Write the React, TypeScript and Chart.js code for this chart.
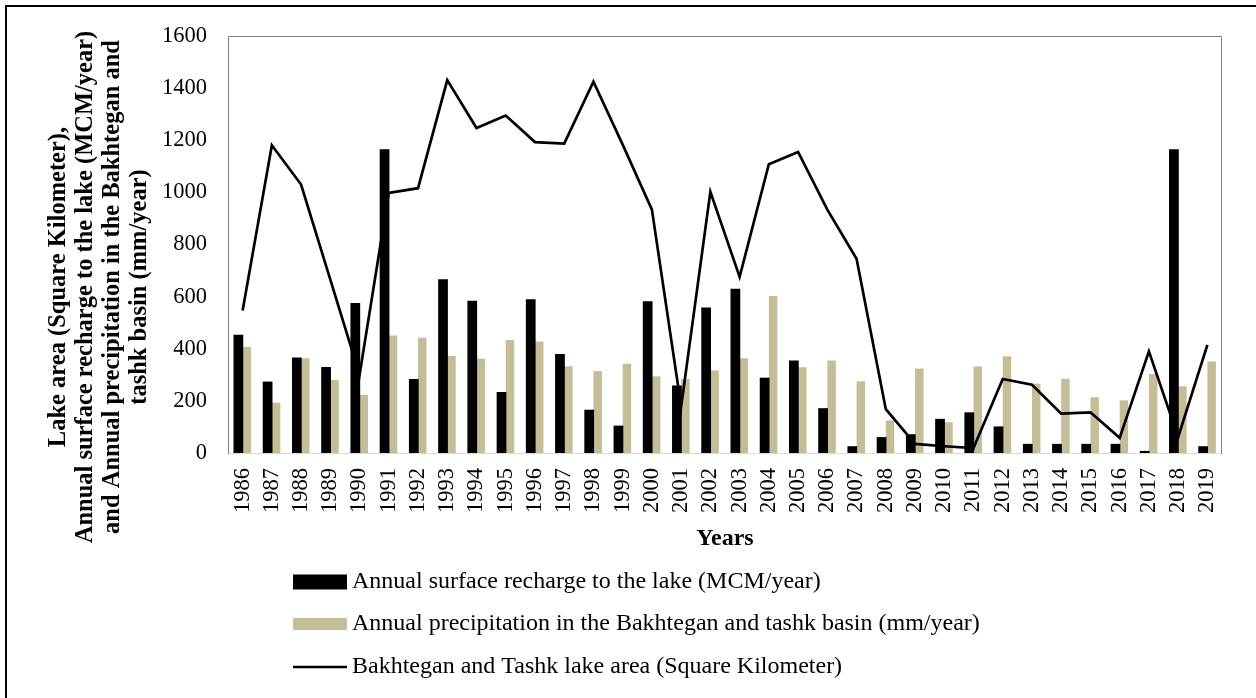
import React, { useEffect, useRef } from "react";
import { Chart, registerables } from "chart.js";

Chart.register(...registerables);

// ---------- data ----------
const years = [
  "1986", "1987", "1988", "1989", "1990", "1991", "1992", "1993", "1994", "1995",
  "1996", "1997", "1998", "1999", "2000", "2001", "2002", "2003", "2004", "2005",
  "2006", "2007", "2008", "2009", "2010", "2011", "2012", "2013", "2014", "2015",
  "2016", "2017", "2018", "2019",
];

const recharge = [
  454, 274, 366, 330, 576, 1165, 284, 667, 584, 234,
  590, 380, 166, 105, 582, 259, 558, 630, 289, 355,
  172, 26, 61, 72, 131, 156, 102, 35, 35, 35,
  35, 8, 1165, 26,
];

const precipitation = [
  407, 193, 364, 280, 223, 451, 442, 372, 362, 434,
  428, 333, 314, 342, 294, 284, 317, 364, 602, 329,
  355, 275, 125, 324, 118, 332, 371, 266, 285, 214,
  202, 303, 256, 351,
];

const lakeArea = [
  547, 1181, 1030, 665, 300, 998, 1016, 1431, 1247, 1295,
  1193, 1187, 1425, 1183, 934, 179, 1002, 676, 1108, 1155,
  934, 745, 168, 35, 26, 19, 284, 262, 151, 156,
  58, 390, 61, 415,
];

const seriesLabels = [
  "Annual surface recharge to the lake (MCM/year)",
  "Annual precipitation in the Bakhtegan and tashk basin (mm/year)",
  "Bakhtegan and Tashk lake area (Square Kilometer)",
];

const yTitleLines = [
  "Lake area (Square Kilometer),",
  "Annual surface recharge to the lake (MCM/year)",
  "and Annual precipitation in the Bakhtegan and",
  "tashk basin (mm/year)",
];

const xTitle = "Years";
const yMin = 0;
const yMax = 1600;
const yStep = 200;

// ---------- styles ----------
const SERIF = '"Liberation Serif", "Times New Roman", serif';
const BLACK = "#000000";
const TAN = "#c4bd97";

const decorPlugin = {
  id: "decor",
  beforeDraw(chart: any) {
    const ctx = chart.ctx;
    ctx.save();
    ctx.fillStyle = "#ffffff";
    ctx.fillRect(0, 0, chart.width, chart.height);
    ctx.strokeStyle = "#000000";
    ctx.lineWidth = 2;
    ctx.beginPath();
    ctx.moveTo(6, chart.height + 20);
    ctx.lineTo(6, 6);
    ctx.lineTo(chart.width + 20, 6);
    ctx.stroke();
    ctx.restore();
  },
  beforeDatasetsDraw(chart: any) {
    const { ctx, chartArea: a } = chart;
    ctx.save();
    ctx.lineWidth = 1;
    ctx.strokeStyle = "#d9d9d9";
    ctx.beginPath();
    ctx.moveTo(a.left, a.bottom + 0.5);
    ctx.lineTo(a.right, a.bottom + 0.5);
    ctx.stroke();
    ctx.strokeStyle = "#808080";
    ctx.beginPath();
    ctx.moveTo(a.left + 0.5, a.bottom + 1);
    ctx.lineTo(a.left + 0.5, a.top + 0.5);
    ctx.lineTo(a.right - 0.5, a.top + 0.5);
    ctx.lineTo(a.right - 0.5, a.bottom + 1);
    ctx.stroke();
    ctx.restore();
  },
  afterDraw(chart: any) {
    const { ctx, chartArea: a } = chart;
    ctx.save();
    // y-axis title (rotated, multi-line, bold)
    ctx.fillStyle = "#000000";
    ctx.font = `bold 24.5px ${SERIF}`;
    ctx.textAlign = "center";
    ctx.textBaseline = "middle";
    const titleCenterY = 287;
    yTitleLines.forEach((line, i) => {
      ctx.save();
      ctx.translate(59 + i * 27, titleCenterY);
      ctx.rotate(-Math.PI / 2);
      ctx.fillText(line, 0, 0);
      ctx.restore();
    });
    // x-axis title
    ctx.font = `bold 24px ${SERIF}`;
    ctx.fillText(xTitle, (a.left + a.right) / 2, 539);

    // legend
    const legendX = 293;
    const swatchW = 54;
    const rows = [582, 624, 667];
    ctx.font = `24px ${SERIF}`;
    ctx.textAlign = "left";
    chart.data.datasets.forEach((ds: any, i: number) => {
      const cy = rows[i];
      if (ds.type === "line") {
        ctx.strokeStyle = ds.borderColor;
        ctx.lineWidth = ds.borderWidth;
        ctx.beginPath();
        ctx.moveTo(legendX, cy);
        ctx.lineTo(legendX + swatchW, cy);
        ctx.stroke();
      } else {
        const h = i === 0 ? 15 : 12;
        ctx.fillStyle = ds.backgroundColor;
        ctx.fillRect(legendX, cy - h / 2, swatchW, h);
      }
      ctx.fillStyle = "#000000";
      ctx.fillText(ds.label, legendX + swatchW + 5, cy);
    });
    ctx.restore();
  },
};

export default function App() {
  const canvasRef = useRef<HTMLCanvasElement | null>(null);

  useEffect(() => {
    if (!canvasRef.current) return;
    const chart = new Chart(canvasRef.current, {
      type: "bar",
      data: {
        labels: years,
        datasets: [
          {
            type: "bar",
            label: seriesLabels[0],
            data: recharge,
            backgroundColor: BLACK,
            borderWidth: 0,
            categoryPercentage: 0.58,
            barPercentage: 1.15,
            order: 1,
          },
          {
            type: "bar",
            label: seriesLabels[1],
            data: precipitation,
            backgroundColor: TAN,
            borderWidth: 0,
            categoryPercentage: 0.58,
            barPercentage: 1.0,
            order: 2,
          },
          {
            type: "line",
            label: seriesLabels[2],
            data: lakeArea,
            borderColor: BLACK,
            backgroundColor: BLACK,
            borderWidth: 2.7,
            pointRadius: 0,
            pointHoverRadius: 0,
            tension: 0,
            fill: false,
            order: 0,
          },
        ],
      },
      options: {
        responsive: false,
        animation: false,
        devicePixelRatio: 1,
        layout: { padding: { left: 0, top: 36, right: 34, bottom: 0 } },
        plugins: {
          legend: { display: false },
          tooltip: { enabled: false },
          title: { display: false },
        },
        scales: {
          x: {
            type: "category",
            offset: true,
            grid: { display: false, drawTicks: false, tickLength: 0 },
            border: { display: false },
            ticks: {
              autoSkip: false,
              minRotation: 90,
              maxRotation: 90,
              padding: 15,
              color: "#000000",
              font: { family: SERIF, size: 22.5 },
            },
            afterFit(scale: any) {
              scale.height = 245;
            },
          },
          y: {
            min: yMin,
            max: yMax,
            grid: { display: false, drawTicks: false, tickLength: 0 },
            border: { display: false },
            ticks: {
              stepSize: yStep,
              padding: 21,
              color: "#000000",
              font: { family: SERIF, size: 22.5 },
              callback: (v: any) => String(v),
            },
            afterFit(scale: any) {
              scale.width = 228;
            },
          },
        },
      },
      plugins: [decorPlugin],
    } as any);
    return () => chart.destroy();
  }, []);

  return (
    <div
      style={{
        position: "fixed",
        left: 0,
        top: 0,
        width: 1256,
        height: 698,
        overflow: "hidden",
        background: "#ffffff",
      }}
    >
      <canvas ref={canvasRef} width={1256} height={698} style={{ display: "block" }} />
    </div>
  );
}
